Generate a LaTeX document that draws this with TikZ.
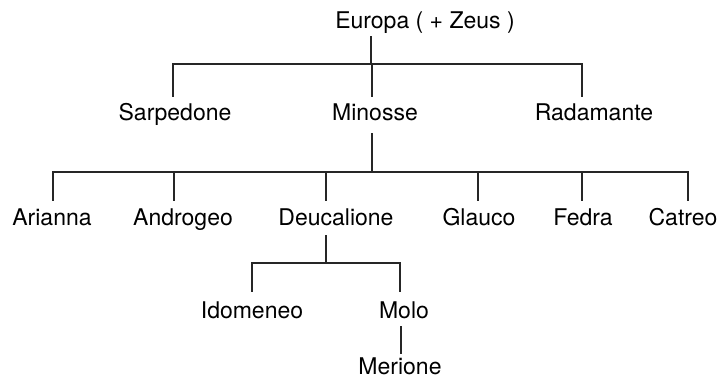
\documentclass[tikz,border=0pt]{standalone}
\usepackage{fontspec}
\setmainfont{TeX Gyre Heros}
\usetikzlibrary{calc}
\begin{document}
\begin{tikzpicture}[x=1pt,y=-1pt,
  person/.style={anchor=base, inner sep=0pt, text height=17pt, text depth=5pt,
                 font=\fontsize{23}{27}\selectfont},
  link/.style={line width=1.9pt, black!85}]
\useasboundingbox[fill=white] (0,0) rectangle (723,381);

% family members
\node[person] (europa)     at (425,28)  {Europa ( + Zeus )};
\node[person] (sarpedone)  at (175,120) {Sarpedone};
\node[person] (minosse)    at (375,120) {Minosse};
\node[person] (radamante)  at (594,120) {Radamante};
\node[person] (arianna)    at (52,225)  {Arianna};
\node[person] (androgeo)   at (183,225) {Androgeo};
\node[person] (deucalione) at (336,225) {Deucalione};
\node[person] (glauco)     at (479,225) {Glauco};
\node[person] (fedra)      at (583,225) {Fedra};
\node[person] (catreo)     at (683,225) {Catreo};
\node[person] (idomeneo)   at (252,318) {Idomeneo};
\node[person] (molo)       at (404,318) {Molo};
\node[person] (merione)    at (400,374) {Merione};

% heights of the sibling bars
\coordinate (bar1) at (0,64);
\coordinate (bar2) at (0,172);
\coordinate (bar3) at (0,263);

% children of Europa
\coordinate (e-down) at ($(europa.south)+(-54,3)$);
\coordinate (s-up) at ($(sarpedone.north)+(-2,-6)$);
\coordinate (m-up) at ($(minosse.north)+(-3,-6)$);
\coordinate (r-up) at ($(radamante.north)+(-12,-6)$);
\draw[link] (s-up) |- (m-up |- bar1) -| (r-up);
\draw[link] (m-up) -- (m-up |- bar1);
\draw[link] (e-down) -- (e-down |- bar1);

% children of Minosse
\coordinate (m-down) at ($(minosse.south)+(-3,8)$);
\coordinate (ar-up) at ($(arianna.north)+(1,-7)$);
\coordinate (an-up) at ($(androgeo.north)+(-9,-7)$);
\coordinate (d-up)  at ($(deucalione.north)+(-10,-7)$);
\coordinate (g-up)  at ($(glauco.north)+(-1,-7)$);
\coordinate (f-up)  at ($(fedra.north)+(-1,-7)$);
\coordinate (c-up)  at ($(catreo.north)+(5,-7)$);
\draw[link] (ar-up) |- (m-down |- bar2) -| (c-up);
\draw[link] (m-down) -- (m-down |- bar2);
\foreach \k in {an-up,d-up,g-up,f-up}
  \draw[link] (\k) -- (\k |- bar2);

% children of Deucalione
\coordinate (d-down) at ($(deucalione.south)+(-10,5)$);
\coordinate (i-up)   at ($(idomeneo.north)+(0,-9)$);
\coordinate (mo-up)  at ($(molo.north)+(-4,-9)$);
\draw[link] (i-up) |- (d-down |- bar3) -| (mo-up);
\draw[link] (d-down) -- (d-down |- bar3);

% son of Molo
\coordinate (mo-down) at ($(molo.south)+(-3,3)$);
\draw[link] (mo-down) -- ($(mo-down |- merione.north)+(0,-3)$);
\end{tikzpicture}
\end{document}
